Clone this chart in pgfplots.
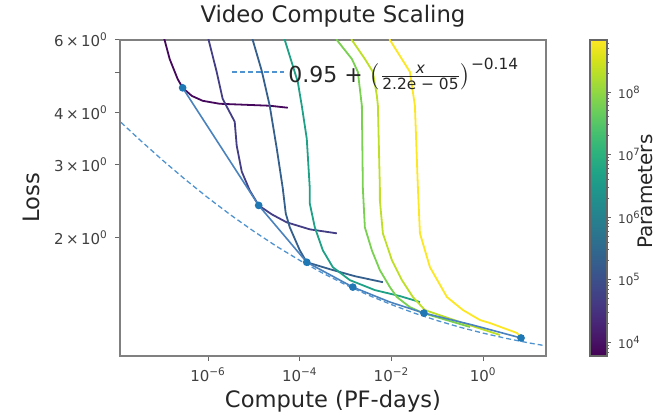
\documentclass[border=0pt]{standalone}
\usepackage{fontspec}
\setmainfont{DejaVu Sans}
\usepackage{amsmath}
\usepackage{pgfplots}
\pgfplotsset{compat=1.18}

\definecolor{pA}{HTML}{46085C}
\definecolor{pB}{HTML}{433E85}
\definecolor{pC}{HTML}{35608D}
\definecolor{pD}{HTML}{1FA187}
\definecolor{pE}{HTML}{7AD151}
\definecolor{pF}{HTML}{BDDF26}
\definecolor{pG}{HTML}{FDE725}
\definecolor{front}{HTML}{4A82BE}
\definecolor{dot}{HTML}{1F77B4}
\definecolor{fit}{HTML}{4F93D0}

\begin{document}
\begin{tikzpicture}
\path[use as bounding box] (-60pt,-30.5pt) rectangle (272pt,178pt);
\begin{axis}[
    scale only axis,
    width=213pt, height=158pt,
    xmode=log, ymode=log,
    xmin=1.2e-8, xmax=23.4,
    ymin=1.033, ymax=6,
    xminorticks=false, yminorticks=false,
    xtick={1e-6,1e-4,1e-2,1},
    xticklabels={10\textsuperscript{−6},10\textsuperscript{−4},10\textsuperscript{−2},10\textsuperscript{0}},
    ytick={2,3,4,6},
    yticklabels={2\,×\,10\textsuperscript{0},3\,×\,10\textsuperscript{0},4\,×\,10\textsuperscript{0},6\,×\,10\textsuperscript{0}},
    extra y ticks={5}, extra y tick labels={},
    tick pos=left, tick align=outside,
    major tick length=2.5pt,
    tick style={black!60, line width=0.5pt},
    ticklabel style={font=\fontsize{7.5}{8}\selectfont, text=black!75},
    axis line style={black!50, line width=0.9pt},
    title={Video Compute Scaling},
    title style={font=\fontsize{11.4}{13}\selectfont, text=black!85, yshift=-3pt},
    xlabel={Compute (PF-days)},
    ylabel={Loss},
    xlabel shift=-3pt, ylabel shift=-5pt,
    label style={font=\fontsize{11.3}{13}\selectfont, text=black!85},
    legend style={at={(0.246,0.968)}, anchor=north west, draw=none, fill=none,
        font=\fontsize{11}{13}\selectfont, text=black!85},
    legend cell align=left,
    legend image code/.code={\draw[#1] (0pt,0pt) -- (26pt,0pt);},
    colormap name=viridis,
    colorbar,
    point meta min=3.78, point meta max=8.83,
    colorbar style={
        scale only axis,
        at={(parent axis.north east)}, anchor=north west, xshift=13.5pt,
        width=8.5pt, height=158pt,
        ytick={4,5,6,7,8},
        yticklabels={10\textsuperscript{4},10\textsuperscript{5},10\textsuperscript{6},10\textsuperscript{7},10\textsuperscript{8}},
        minor ytick={3.8451,3.9031,3.9542,4.3010,4.4771,4.6021,4.6990,4.7782,4.8451,4.9031,4.9542,5.3010,5.4771,5.6021,5.6990,5.7782,5.8451,5.9031,5.9542,6.3010,6.4771,6.6021,6.6990,6.7782,6.8451,6.9031,6.9542,7.3010,7.4771,7.6021,7.6990,7.7782,7.8451,7.9031,7.9542,8.3010,8.4771,8.6021,8.6990,8.7782},
        ytick pos=right, tick align=outside,
        major tick length=2pt, minor tick length=1.2pt,
        tick style={black!60, line width=0.4pt},
        yticklabel style={font=\fontsize{6}{7}\selectfont, text=black!75},
        ylabel={Parameters},
        ylabel style={at={(axis description cs:3.25,0.52)}, anchor=center,
            font=\fontsize{10}{12}\selectfont, text=black!85},
        axis line style={black!60, line width=0.6pt},
    },
]
% one line per model size
\addplot[pA, line width=0.9pt, forget plot] coordinates {
    (8.77e-8,6.48) (1.127e-7,6.0) (1.452e-7,5.40) (2.168e-7,4.83) (2.786e-7,4.598)
    (4.385e-7,4.398) (7.62e-7,4.277) (1.79e-6,4.207) (2.213e-5,4.161) (5.47e-5,4.115)
};
\addplot[pB, line width=0.9pt, forget plot] coordinates {
    (8.43e-7,6.48) (1.03e-6,6.0) (1.54e-6,5.025) (2.08e-6,4.325) (3.81e-6,3.807)
    (4.21e-6,3.333) (5.42e-6,2.885) (8.10e-6,2.597) (1.27e-5,2.389) (2.45e-5,2.273)
    (5.20e-5,2.174) (1.65e-4,2.091) (6.43e-4,2.045)
};
\addplot[pC, line width=0.9pt, forget plot] coordinates {
    (8.10e-6,6.48) (9.42e-6,6.0) (1.48e-5,5.053) (2.21e-5,4.161) (3.15e-5,3.278)
    (4.26e-5,2.626) (4.94e-5,2.285) (6.05e-5,2.115) (1.0e-4,1.861) (1.42e-4,1.741)
    (4.52e-4,1.675) (1.59e-3,1.611) (6.49e-3,1.558)
};
\addplot[pD, line width=0.9pt, forget plot] coordinates {
    (4.05e-5,6.48) (4.71e-5,6.0) (9.04e-5,4.753) (1.106e-4,4.161) (1.42e-4,3.464)
    (1.653e-4,2.626) (1.653e-4,2.415) (2.126e-4,2.115) (3.18e-4,1.861) (5.25e-4,1.694)
    (1.235e-3,1.576) (4.34e-3,1.491) (1.526e-2,1.442) (4.17e-2,1.395)
};
\addplot[pE, line width=0.9pt, forget plot] coordinates {
    (5.25e-4,6.48) (6.43e-4,6.0) (1.366e-3,5.40) (1.846e-3,5.025) (2.258e-3,4.161)
    (2.374e-3,2.626) (2.625e-3,2.115) (3.73e-3,1.861) (5.58e-3,1.666) (9.23e-3,1.516)
    (1.312e-2,1.434) (2.52e-2,1.356) (4.85e-2,1.312) (0.515,1.214)
};
\addplot[pF, line width=0.9pt, forget plot] coordinates {
    (1.062e-3,6.48) (1.366e-3,6.0) (2.625e-3,5.40) (3.925e-3,5.025) (4.80e-3,4.398)
    (5.05e-3,4.161) (5.58e-3,2.626) (5.58e-3,2.456) (6.49e-3,2.045) (1.02e-2,1.761)
    (1.688e-2,1.576) (2.93e-2,1.434) (5.36e-2,1.334) (0.311,1.248) (2.33,1.161)
};
\addplot[pG, line width=0.9pt, forget plot] coordinates {
    (7.93e-3,6.48) (9.23e-3,6.0) (2.52e-2,5.025) (3.24e-2,4.161) (3.77e-2,2.626)
    (4.17e-2,2.045) (6.89e-2,1.694) (0.162,1.434) (0.362,1.334) (0.851,1.262)
    (1.408,1.241) (5.47,1.174) (6.68,1.142)
};
% compute-efficient frontier
\addplot[front, line width=0.8pt, forget plot, mark=*, mark size=1.5pt,
    mark options={fill=dot, draw=dot}, mark indices={1,2,3,4,6,8}] coordinates {
    (2.786e-7,4.598) (1.27e-5,2.389) (1.42e-4,1.741) (1.435e-3,1.516)
    (9.23e-3,1.395) (5.09e-2,1.312) (0.598,1.227) (6.68,1.142)
};
% power-law fit
\addplot[fit, line width=0.65pt, dash pattern=on 2.5pt off 1.5pt] coordinates {
    (1.26e-8,3.794) (3.162e-8,3.450) (1e-7,3.078) (3.162e-7,2.761) (1e-6,2.4915)
    (3.162e-6,2.262) (1e-5,2.067) (3.162e-5,1.9005) (1e-4,1.759) (3.162e-4,1.6385)
    (1e-3,1.536) (3.162e-3,1.4488) (1e-2,1.375) (3.162e-2,1.3113) (0.1,1.258)
    (0.3162,1.2118) (1,1.173) (3.162,1.1396) (10,1.111) (23.4,1.093)
};
\addlegendentry{0.95 + $\bigl(\frac{\text{\itshape x}}{\text{2.2e − 05}}\bigr)^{\text{−0.14}}$}
\end{axis}
\end{tikzpicture}
\end{document}
